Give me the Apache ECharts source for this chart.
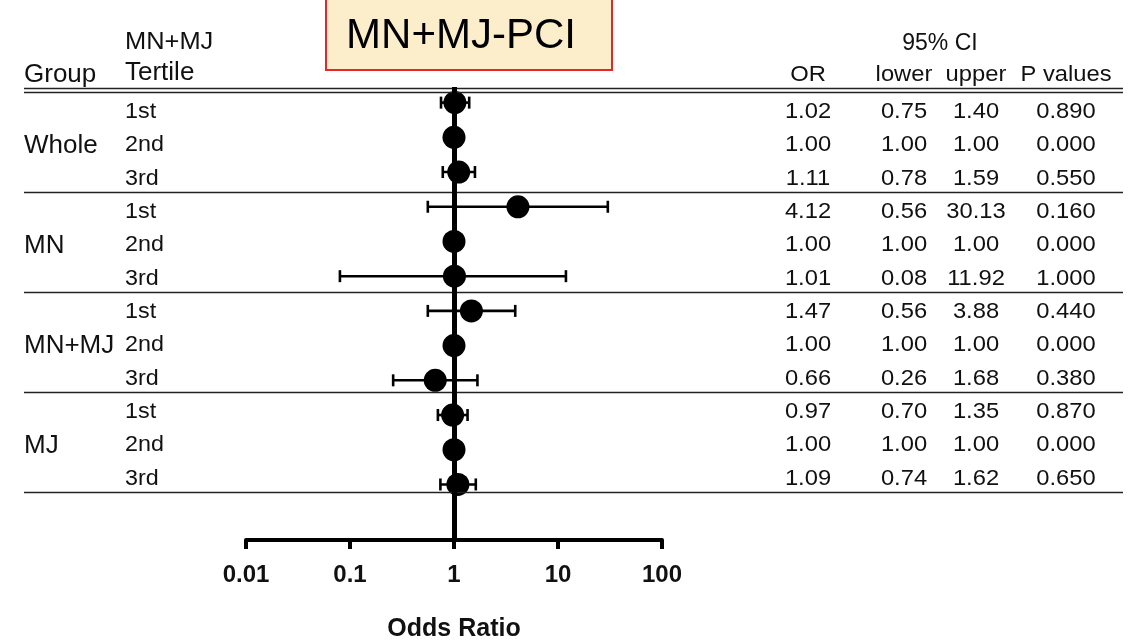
<!DOCTYPE html>
<html>
<head>
<meta charset="utf-8">
<script src="https://cdn.jsdelivr.net/npm/echarts@6/dist/echarts.min.js"></script>
<style>
  html, body { margin: 0; padding: 0; background: #fff; }
  #chart { width: 1135px; height: 642px; }
</style>
</head>
<body>
<div id="chart"></div>
<script>
// ---- Data ----
const groups = ['Whole', 'MN', 'MN+MJ', 'MJ'];
const tertiles = ['1st', '2nd', '3rd'];
const orVals   = [1.02, 1.00, 1.11, 4.12, 1.00, 1.01, 1.47, 1.00, 0.66, 0.97, 1.00, 1.09];
const lowerVals = [0.75, 1.00, 0.78, 0.56, 1.00, 0.08, 0.56, 1.00, 0.26, 0.70, 1.00, 0.74];
const upperVals = [1.40, 1.00, 1.59, 30.13, 1.00, 11.92, 3.88, 1.00, 1.68, 1.35, 1.00, 1.62];
const pVals    = [0.890, 0.000, 0.550, 0.160, 0.000, 1.000, 0.440, 0.000, 0.380, 0.870, 0.000, 0.650];
const xTicks = [0.01, 0.1, 1, 10, 100];
const titleText = 'MN+MJ-PCI';
const axisName = 'Odds Ratio';

const FONT = 'Arial, "Liberation Sans", Helvetica, sans-serif';

const chart = echarts.init(document.getElementById('chart'), null, { renderer: 'canvas' });

const pointData = orVals.map((v, i) => [v, i]);
const ciData = orVals.map((v, i) => [i, lowerVals[i], upperVals[i]]);

// ---- Table (graphic) ----
const graphics = [];
function txt(str, x, y, size, align, opts) {
  opts = opts || {};
  graphics.push({
    type: 'text', x: x, y: y, scaleX: opts.sx || 1,
    style: { text: str, fontFamily: FONT, fontSize: size, fontWeight: opts.bold ? 'bold' : 'normal',
             fill: opts.color || '#111', align: align, verticalAlign: 'middle' },
    z: 10
  });
}
function hline(y, w) {
  graphics.push({ type: 'line', shape: { x1: 24, y1: y, x2: 1123, y2: y },
    style: { stroke: '#222', lineWidth: w || 1.5 }, z: 5 });
}
// title box
graphics.push({ type: 'rect', shape: { x: 326, y: -1, width: 286, height: 71 },
  style: { fill: '#fdeecb', stroke: '#e8262a', lineWidth: 2 }, z: 5 });
txt(titleText, 461, 36, 42, 'center', { color: '#000' });

// headers
txt('Group', 24, 75, 26, 'left');
txt('MN+MJ', 125, 42, 24, 'left', { sx: 1.06 });
txt('Tertile', 125, 73, 26, 'left');
txt('95% CI', 940, 44, 23, 'center');
const colX = { or: 808, low: 904, up: 976, p: 1066 };
txt('OR', colX.or, 75, 22, 'center', { sx: 1.08 });
txt('lower', colX.low, 75, 22, 'center', { sx: 1.08 });
txt('upper', colX.up, 75, 22, 'center', { sx: 1.08 });
txt('P values', colX.p, 75, 22, 'center', { sx: 1.08 });

hline(88.5); hline(92.5);
const rowOff = [19, 52, 86];
groups.forEach((g, gi) => {
  const base = 92.5 + 100 * gi;
  txt(g, 24, base + 53, 26, 'left');
  tertiles.forEach((t, ti) => {
    const i = gi * 3 + ti;
    const y = base + rowOff[ti];
    txt(t, 125, y, 22, 'left', { sx: 1.06 });
    txt(orVals[i].toFixed(2), colX.or, y, 22, 'center', { sx: 1.08 });
    txt(lowerVals[i].toFixed(2), colX.low, y, 22, 'center', { sx: 1.08 });
    txt(upperVals[i].toFixed(2), colX.up, y, 22, 'center', { sx: 1.08 });
    txt(pVals[i].toFixed(3), colX.p, y, 22, 'center', { sx: 1.08 });
  });
  hline(192.5 + 100 * gi);
});

const option = {
  animation: false,
  backgroundColor: '#fff',
  grid: { left: 246, width: 416, top: 87, height: 453, containLabel: false, outerBoundsMode: 'none' },
  xAxis: {
    type: 'log', logBase: 10, min: xTicks[0], max: xTicks[xTicks.length - 1],
    position: 'bottom',
    axisLine: { show: true, onZero: false, lineStyle: { color: '#000', width: 4 } },
    axisTick: { show: true, inside: false, length: 9, lineStyle: { color: '#000', width: 4 } },
    minorTick: { show: false },
    splitLine: { show: false },
    axisLabel: { color: '#111', fontFamily: FONT, fontWeight: 'bold', fontSize: 24, margin: 23,
                 formatter: v => String(+v.toPrecision(3)) },
    name: axisName, nameLocation: 'middle', nameGap: 77,
    nameTextStyle: { color: '#111', fontFamily: FONT, fontWeight: 'bold', fontSize: 25 }
  },
  yAxis: { type: 'value', inverse: true, min: -0.45, max: 12.6, show: false },
  series: [
    {
      type: 'custom',
      name: 'CI',
      data: ciData,
      encode: { x: [1, 2], y: 0 },
      z: 3,
      renderItem: function (params, api) {
        const row = api.value(0);
        const p1 = api.coord([api.value(1), row]);
        const p2 = api.coord([api.value(2), row]);
        const h = 6;
        const st = { stroke: '#000', lineWidth: 2.6 };
        return { type: 'group', children: [
          { type: 'line', shape: { x1: p1[0], y1: p1[1], x2: p2[0], y2: p2[1] }, style: st },
          { type: 'line', shape: { x1: p1[0], y1: p1[1] - h, x2: p1[0], y2: p1[1] + h }, style: st },
          { type: 'line', shape: { x1: p2[0], y1: p2[1] - h, x2: p2[0], y2: p2[1] + h }, style: st }
        ] };
      }
    },
    {
      type: 'scatter',
      name: 'OR',
      data: pointData,
      symbol: 'circle',
      symbolSize: 23,
      itemStyle: { color: '#000', opacity: 1 },
      z: 4,
      markLine: {
        silent: true, symbol: 'none', label: { show: false },
        lineStyle: { color: '#000', width: 5, type: 'solid', opacity: 1 },
        data: [{ xAxis: 1 }]
      }
    }
  ],
  graphic: graphics
};
chart.setOption(option);
</script>
</body>
</html>
